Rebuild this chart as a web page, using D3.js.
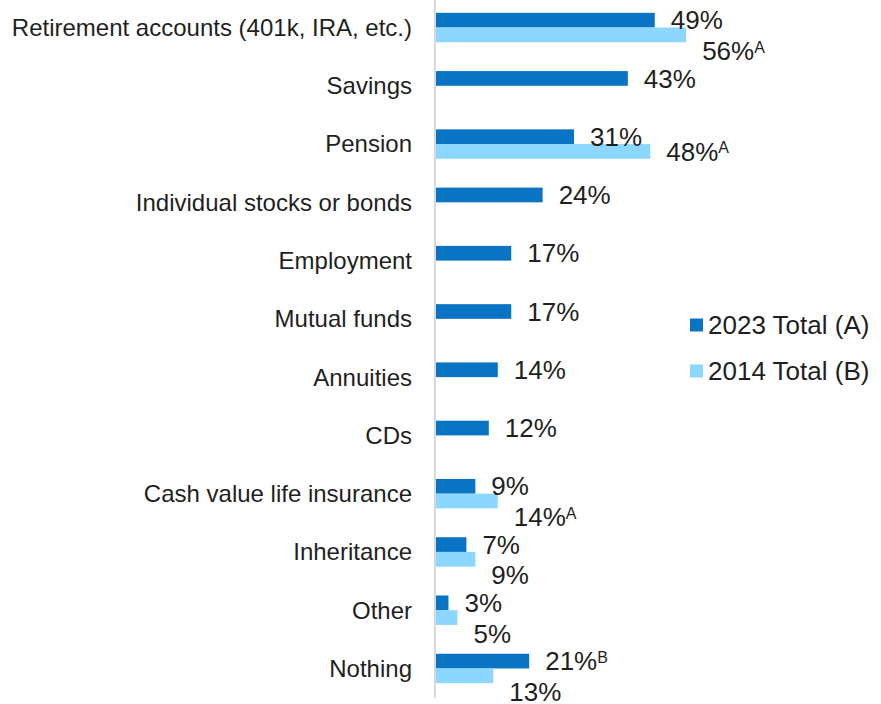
<!DOCTYPE html>
<html>
<head>
<meta charset="utf-8">
<script src="https://cdn.jsdelivr.net/npm/d3@7"></script>
<style>
  body { margin: 0; background: #fff; }
  text { font-family: "Liberation Sans", Arial, sans-serif; fill: #1f1f1f; }
</style>
</head>
<body>
<div id="chart"></div>
<script>
// Chart data
const categories = [
  'Retirement accounts (401k, IRA, etc.)', 'Savings', 'Pension',
  'Individual stocks or bonds', 'Employment', 'Mutual funds', 'Annuities',
  'CDs', 'Cash value life insurance', 'Inheritance', 'Other', 'Nothing'
];
const seriesNames = ['2023 Total (A)', '2014 Total (B)'];
const values2023 = [49, 43, 31, 24, 17, 17, 14, 12, 9, 7, 3, 21];
const values2014 = [56, null, 48, null, null, null, null, null, 14, 9, 5, 13];
// significance letters shown after the value
const sig2023 = ['', '', '', '', '', '', '', '', '', '', '', 'B'];
const sig2014 = ['A', '', 'A', '', '', '', '', '', 'A', '', '', ''];

const colors = ['#0a74c4', '#8bd7ff'];

const width = 881, height = 704;
const svg = d3.select('#chart').append('svg')
    .attr('width', width)
    .attr('height', height);

const x = d3.scaleLinear().domain([0, 100]).range([435, 435 + 448.5]);
const y = d3.scaleBand().domain(categories).range([-1.6, 697.6]);
const ySub = d3.scaleBand().domain(['a', 'b']).range([0, y.bandwidth()]).paddingOuter(0.98);

const rows = categories.map((c, i) => ({
  cat: c,
  bars: [
    {key: 'a', v: values2023[i], sig: sig2023[i]},
    {key: 'b', v: values2014[i], sig: sig2014[i]}
  ].filter(d => d.v !== null)
}));

// bars
const group = svg.selectAll('.row')
    .data(rows)
  .join('g')
    .attr('class', 'row')
    .attr('transform', d => `translate(0,${y(d.cat)})`);

group.selectAll('rect')
    .data(d => d.bars)
  .join('rect')
    .attr('x', x(0))
    .attr('y', d => ySub(d.key))
    .attr('width', d => x(d.v) - x(0))
    .attr('height', ySub.bandwidth())
    .attr('fill', d => d.key === 'a' ? colors[0] : colors[1]);

// axis line
svg.append('line')
    .attr('x1', x(0)).attr('x2', x(0))
    .attr('y1', 0).attr('y2', 698)
    .attr('stroke', '#d9d9d9')
    .attr('stroke-width', 2);

// category labels
svg.selectAll('.cat-label')
    .data(categories)
  .join('text')
    .attr('class', 'cat-label')
    .attr('x', 412)
    .attr('y', d => y(d) + y.bandwidth() / 2)
    .attr('dy', '0.35em')
    .attr('text-anchor', 'end')
    .style('font-size', '24px')
    .text(d => d);

// value labels
group.each(function(row) {
  const g = d3.select(this);
  const boxes = {};
  row.bars.forEach(b => {
    const t = g.append('text')
        .attr('x', x(b.v) + 16)
        .attr('y', ySub(b.key) + ySub.bandwidth() / 2)
        .attr('dy', '0.35em')
        .style('font-size', '26px');
    t.append('tspan').text(b.v + '%');
    if (b.sig) {
      t.append('tspan')
          .attr('dy', '-0.45em')
          .style('font-size', '16px')
          .text(b.sig);
    }
    boxes[b.key] = {node: t, x0: x(b.v) + 16, x1: x(b.v) + 16 + t.node().getComputedTextLength()};
  });
  // push the 2014 label down when it would collide with the 2023 label
  if (boxes.a && boxes.b && boxes.b.x0 < boxes.a.x1 && boxes.a.x0 < boxes.b.x1) {
    boxes.b.node.attr('y', +boxes.b.node.attr('y') + 16);
  }
});

// legend
const legend = svg.append('g')
    .attr('transform', 'translate(690,325)');

const legendItem = legend.selectAll('g')
    .data(seriesNames)
  .join('g')
    .attr('transform', (d, i) => `translate(0,${i * 46})`);

legendItem.append('rect')
    .attr('x', 0).attr('y', -6.5)
    .attr('width', 13).attr('height', 13)
    .attr('fill', (d, i) => colors[i]);

legendItem.append('text')
    .attr('x', 18)
    .attr('dy', '0.35em')
    .style('font-size', '26px')
    .text(d => d);
</script>
</body>
</html>
